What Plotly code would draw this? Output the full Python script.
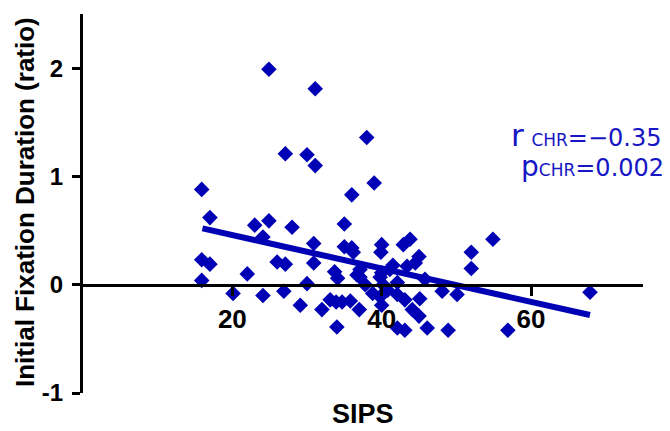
import plotly.graph_objects as go

# SIPS score (x) and initial fixation duration ratio (y)
sips = [24.9, 31.1, 27.1, 30.0, 31.1, 15.9, 38.0, 39.0, 36.0, 17.0,
        15.9, 17.0, 15.9, 20.1, 22.0, 23.0, 24.9, 24.1, 28.0, 26.0,
        27.1, 24.1, 26.9, 29.1, 30.9, 30.9, 30.0, 32.0, 34.0, 33.1,
        33.7, 34.1, 33.9, 34.7, 35.8, 37.0, 35.0, 35.0, 36.0, 36.2,
        37.1, 37.1, 37.8, 38.8, 40.0, 39.9, 40.0, 39.8, 40.2, 40.0,
        39.8, 41.1, 41.5, 42.1, 42.1, 42.1, 42.9, 43.8, 45.0, 44.5,
        43.4, 45.8, 43.1, 45.1, 44.1, 45.0, 43.1, 46.1, 48.1, 50.1,
        48.9, 52.0, 52.0, 54.9, 56.9, 67.9, 36.7, 40.8]
ratio = [1.99, 1.81, 1.21, 1.20, 1.10, 0.88, 1.36, 0.94, 0.83, 0.62,
         0.23, 0.19, 0.04, -0.08, 0.10, 0.55, 0.59, 0.44, 0.53, 0.21,
         0.19, -0.10, -0.06, -0.19, 0.38, 0.20, 0.01, -0.23, -0.39, -0.14,
         0.12, 0.06, -0.16, -0.16, -0.15, -0.23, 0.56, 0.35, 0.34, 0.30,
         0.14, 0.07, 0.00, -0.08, 0.37, 0.30, 0.11, 0.07, 0.00, -0.19,
         -0.11, 0.14, 0.18, 0.02, -0.09, -0.40, 0.37, 0.42, 0.26, 0.20,
         0.17, 0.05, -0.14, -0.13, -0.23, -0.29, -0.42, -0.40, -0.06, -0.09,
         -0.42, 0.30, 0.15, 0.42, -0.42, -0.07, 0.09, -0.05]

# Regression line end points
fit_x = [16.0, 67.9]
fit_y = [0.52, -0.28]

x_ticks = [20, 40, 60]
y_ticks = [-1, 0, 1, 2]

BLUE = "#0000b4"
TXT_BLUE = "#1616c4"

# the page body adds an 8px offset; size the figure to fit the window
W, H = 662, 423
L, T = 75, 6
PW, PH = 560, 379

fig = go.Figure()
fig.add_trace(go.Scatter(
    x=sips, y=ratio, mode="markers",
    marker=dict(symbol="diamond", size=12, color=BLUE, line=dict(width=0)),
    showlegend=False, hoverinfo="skip"))
fig.add_trace(go.Scatter(
    x=fit_x, y=fit_y, mode="lines",
    line=dict(color=BLUE, width=6),
    showlegend=False, hoverinfo="skip"))

def px_x(px):
    return (px - 8 - L) / PW

def px_y(py):
    return (T + PH - (py - 8)) / PH

fig.update_layout(
    width=W, height=H,
    margin=dict(l=L, r=W - L - PW, t=T, b=H - T - PH, pad=0),
    paper_bgcolor="white", plot_bgcolor="white",
    font=dict(family="Liberation Sans", color="black"),
    xaxis=dict(
        range=[0, 75], showgrid=False, zeroline=False,
        showline=True, linecolor="black", linewidth=3,
        ticks="outside", ticklen=9, tickwidth=3, tickcolor="black",
        tickvals=x_ticks, ticktext=[str(v) for v in x_ticks],
        tickfont=dict(family="Liberation Sans", size=26, color="black", weight="bold"),
        ticklabelstandoff=1,
        anchor="free", position=1 / 3.5,
    ),
    yaxis=dict(
        range=[-1, 2.5], showgrid=False, zeroline=False,
        showline=True, linecolor="black", linewidth=3,
        ticks="outside", ticklen=8, tickwidth=3, tickcolor="black",
        tickvals=y_ticks, ticktext=[str(v) for v in y_ticks],
        tickfont=dict(family="Liberation Sans", size=24, color="black", weight="bold"),
        ticklabelstandoff=4,
    ),
    annotations=[
        dict(text="<b>Initial Fixation Duration (ratio)</b>", textangle=-90,
             xref="paper", yref="paper", x=px_x(25), y=px_y(202),
             xanchor="center", yanchor="middle", showarrow=False,
             font=dict(family="Liberation Sans", size=26, color="black")),
        dict(text="<b>SIPS</b>",
             xref="paper", yref="paper", x=px_x(363), y=px_y(414),
             xanchor="center", yanchor="middle", showarrow=False,
             font=dict(family="Liberation Sans", size=27, color="black")),
        dict(text="<span style='font-size:31px'>r</span> "
                  "<span style='font-size:17px'>CHR</span>=\u22120.35",
             xref="paper", yref="paper", x=px_x(664), y=px_y(135),
             xanchor="right", yanchor="middle", showarrow=False,
             font=dict(family="DejaVu Sans", size=24, color=TXT_BLUE)),
        dict(text="<span style='font-size:28px'>p</span>"
                  "<span style='font-size:17px'>CHR</span>=0.002",
             xref="paper", yref="paper", x=px_x(666), y=px_y(166),
             xanchor="right", yanchor="middle", showarrow=False,
             font=dict(family="DejaVu Sans", size=24, color=TXT_BLUE)),
    ],
)

fig.write_html("out.html")
